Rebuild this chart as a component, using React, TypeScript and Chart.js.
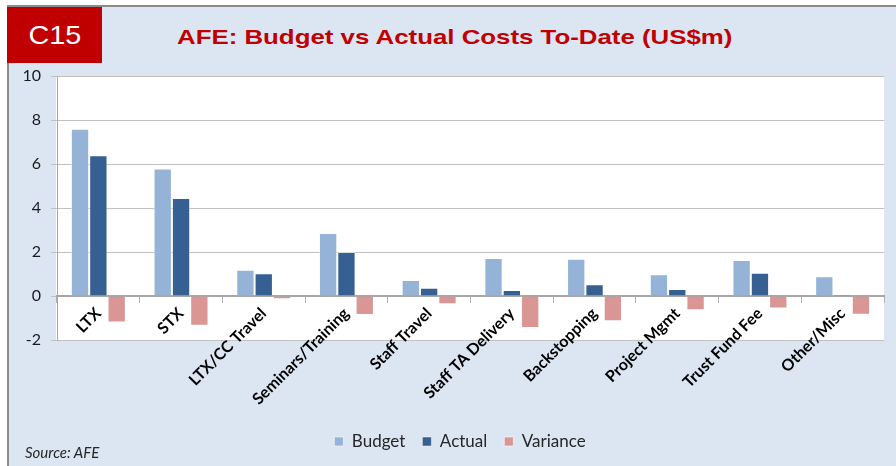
import React, { useEffect, useRef } from "react";
import { Chart, registerables } from "chart.js";

Chart.register(...registerables);

const categories = [
  "LTX",
  "STX",
  "LTX/CC Travel",
  "Seminars/Training",
  "Staff Travel",
  "Staff TA Delivery",
  "Backstopping",
  "Project Mgmt",
  "Trust Fund Fee",
  "Other/Misc",
];
const budget = [7.6, 5.8, 1.19, 2.86, 0.73, 1.73, 1.69, 0.99, 1.64, 0.9];
const actual = [6.4, 4.45, 1.03, 2.0, 0.37, 0.27, 0.53, 0.32, 1.06, 0.05];
const variance = [-1.2, -1.35, -0.15, -0.86, -0.38, -1.45, -1.15, -0.65, -0.57, -0.85];
const yTicks = [-2, 0, 2, 4, 6, 8, 10];

const plotBg = {
  id: "plotBg",
  beforeDraw(chart: any) {
    const { ctx, chartArea: a } = chart;
    ctx.save();
    ctx.fillStyle = "#ffffff";
    ctx.fillRect(a.left - 1, a.top, a.right - a.left + 1, a.bottom - a.top);
    ctx.restore();
  },
};

const legendShift = {
  id: "legendShift",
  afterLayout(chart: any) {
    if (chart.legend) {
      chart.legend.left += 14;
      chart.legend.right += 14;
    }
  },
};

export default function App() {
  const ref = useRef<HTMLCanvasElement>(null);

  useEffect(() => {
    if (!ref.current) return;
    const chart = new Chart(ref.current, {
      type: "bar",
      data: {
        labels: categories,
        datasets: [
          {
            label: "Budget",
            data: budget,
            backgroundColor: "#95b3d7",
            borderColor: "rgba(255,255,255,0.55)",
            borderWidth: 1,
          },
          {
            label: "Actual",
            data: actual,
            backgroundColor: "#366092",
            borderColor: "rgba(255,255,255,0.45)",
            borderWidth: 1,
          },
          {
            label: "Variance",
            data: variance,
            backgroundColor: "#da9694",
            borderColor: "rgba(255,255,255,0.55)",
            borderWidth: 1,
          },
        ],
      },
      options: {
        animation: false,
        responsive: false,
        devicePixelRatio: 1,
        datasets: { bar: { categoryPercentage: 0.665, barPercentage: 1 } },
        layout: { padding: { left: 8, right: 12, top: 76, bottom: 6 } },
        plugins: {
          title: { display: false },
          tooltip: { enabled: false },
          legend: {
            position: "bottom",
            labels: {
              boxWidth: 9,
              boxHeight: 9,
              padding: 17,
              color: "#262626",
              font: { family: "Lato", size: 17 },
            },
          },
        },
        scales: {
          x: {
            position: { y: 0 } as any,
            offset: true,
            grid: {
              display: true,
              drawOnChartArea: false,
              drawTicks: true,
              tickLength: 6,
              color: "#b0b0b0",
              offset: true,
            },
            border: { display: true, color: "#a6a6a6", width: 2 },
            ticks: {
              autoSkip: false,
              maxRotation: 45,
              minRotation: 45,
              padding: 2,
              color: "#000000",
              font: { family: "Lato", size: 16, weight: "bold" },
            },
          },
          spacer: {
            type: "category",
            position: "bottom",
            labels: categories,
            grid: { display: false, drawTicks: false },
            border: { display: false },
            ticks: { display: false },
            afterFit: (s: any) => {
              s.height = 76;
            },
          },
          y: {
            min: -2,
            max: 10,
            afterBuildTicks: (s: any) => {
              s.ticks = yTicks.map((v) => ({ value: v }));
            },
            ticks: {
              color: "#1a1a1a",
              padding: 10,
              font: { family: "Lato", size: 16 },
            },
            grid: { color: "#c0c0c0", tickLength: 6, drawTicks: true },
            border: { display: true, color: "#a6a6a6" },
            afterFit: (s: any) => {
              s.width = 49;
            },
          },
        },
      },
      plugins: [plotBg, legendShift],
    });
    return () => chart.destroy();
  }, []);

  return (
    <div
      style={{
        position: "absolute",
        left: 0,
        top: 0,
        width: 896,
        height: 466,
        background: "#ffffff",
        overflow: "hidden",
      }}
    >
      <div
        style={{
          position: "absolute",
          left: 7,
          top: 5,
          width: 889,
          height: 461,
          background: "#dce6f2",
          borderTop: "2px solid #8c8c8c",
          borderLeft: "2px solid #8c8c8c",
          boxSizing: "border-box",
        }}
      />
      <div
        style={{
          position: "absolute",
          left: 7,
          top: 7,
          width: 95,
          height: 56,
          background: "#c00000",
        }}
      />
      <div
        style={{
          position: "absolute",
          left: 7,
          top: 7,
          width: 95,
          height: 56,
          display: "flex",
          alignItems: "center",
          justifyContent: "center",
          color: "#ffffff",
          fontFamily: "'Liberation Sans', Arial, sans-serif",
          fontSize: 25,
          lineHeight: "56px",
        }}
      >
        <span style={{ display: "inline-block", transform: "scaleX(1.15)" }}>C15</span>
      </div>
      <div
        style={{
          position: "absolute",
          left: 177,
          top: 24,
          color: "#c00000",
          fontFamily: "'Liberation Sans', Arial, sans-serif",
          fontWeight: "bold",
          fontSize: 21,
          lineHeight: "26px",
          whiteSpace: "nowrap",
          transform: "scaleX(1.23)",
          transformOrigin: "left center",
        }}
      >
        AFE: Budget vs Actual Costs To-Date (US$m)
      </div>
      <canvas
        ref={ref}
        width={896}
        height={466}
        style={{ position: "absolute", left: 0, top: 0, width: 896, height: 466 }}
      />
      <div
        style={{
          position: "absolute",
          left: 25,
          top: 442,
          color: "#262626",
          fontFamily: "Lato, 'Open Sans', sans-serif",
          fontStyle: "italic",
          fontSize: 15,
          lineHeight: "20px",
          whiteSpace: "nowrap",
        }}
      >
        Source: AFE
      </div>
    </div>
  );
}
